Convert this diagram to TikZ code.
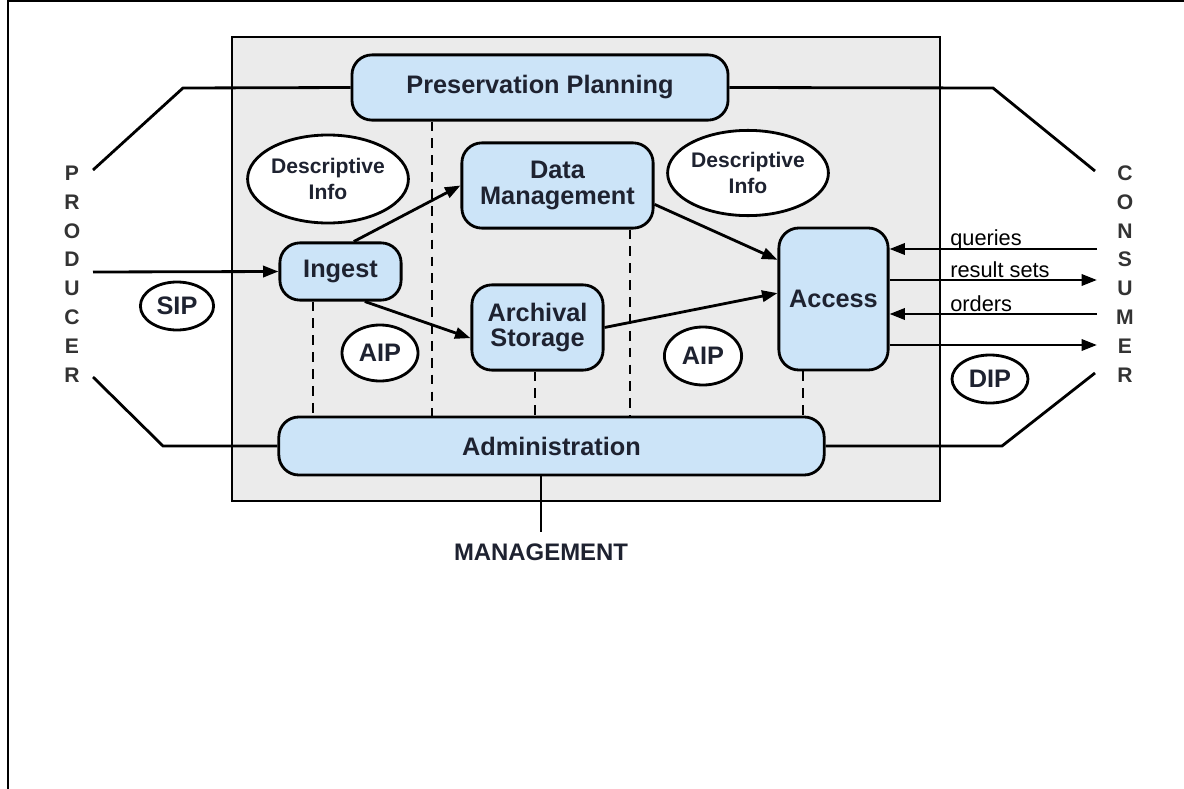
\documentclass[tikz,border=0pt]{standalone}
\usepackage{fontspec}
\setmainfont{Liberation Sans}
\usetikzlibrary{arrows.meta,shapes.geometric}
\definecolor{boxblue}{RGB}{204,228,248}
\definecolor{panelgray}{RGB}{235,235,235}
\definecolor{ink}{RGB}{30,34,48}

\begin{document}
\begin{tikzpicture}
  [x=0.025cm,y=-0.025cm,every node/.style={text=ink,font=\fontsize{18}{18.5}\selectfont\bfseries}]
  \tikzstyle{func} = [draw=black,line width=2pt,fill=boxblue,rounded corners=0.5cm,align=center,inner sep=0pt]
  \tikzstyle{obj} = [draw=black,line width=2pt,fill=white,ellipse,align=center,inner sep=0pt]
  \tikzstyle{flow} = [line width=2pt,-{Triangle[length=11pt,width=8pt]}]
  \tikzstyle{link} = [line width=2pt]
  \tikzstyle{dashline} = [line width=2pt,dash pattern=on 7pt off 5pt]
  \tikzstyle{lbl} = [font=\fontsize{15.5}{16}\selectfont,text=black,inner sep=0pt]
  \tikzstyle{letter} = [font=\fontsize{15}{15}\selectfont\bfseries,text=black!80]

  \useasboundingbox (0,0) rectangle (1184,789);
  \draw[line width=1.5pt] (8,789) -- (8,1) -- (1184,1);
  % the archive
  \draw[line width=2pt,fill=panelgray] (232,37) rectangle (940,501);

  \node[func,minimum width=9.4cm,minimum height=1.63cm] (pp) at (540,87.5) {Preservation Planning};
  \node[func,minimum width=3.03cm,minimum height=1.43cm] (ingest) at (340.5,271.5) {Ingest};
  \node[func,minimum width=4.78cm,minimum height=2.13cm] (dm) at (557.5,185.5) {Data\\Management};
  \node[func,minimum width=3.28cm,minimum height=2.13cm,font=\fontsize{18}{17.8}\selectfont\bfseries] (as) at (537.5,327.5) {Archival\\Storage};
  \node[func,minimum width=2.73cm,minimum height=3.55cm] (access) at (833.5,299) {Access};
  \node[func,minimum width=13.63cm,minimum height=1.45cm] (admin) at (551.5,446) {Administration};

  \node[obj,minimum width=3.65cm,minimum height=2.2cm,font=\fontsize{15}{18.5}\selectfont\bfseries] (descl) at (328,179) {Descriptive\\Info};
  \node[obj,minimum width=3.65cm,minimum height=2.13cm,font=\fontsize{15}{18.5}\selectfont\bfseries] (descr) at (748,173) {Descriptive\\Info};
  \node[obj,minimum width=1.83cm,minimum height=1.2cm] (sip) at (177,306) {SIP};
  \node[obj,minimum width=1.9cm,minimum height=1.4cm] (aipl) at (380,353) {AIP};
  \node[obj,minimum width=1.93cm,minimum height=1.45cm] (aipr) at (703,356) {AIP};
  \node[obj,minimum width=1.9cm,minimum height=1.2cm] (dip) at (990,379) {DIP};

  % producer and consumer
  \foreach \l [count=\i] in {P,R,O,D,U,C,E,R}
    \node[letter] (prod\i) at (72,{173+28.9*(\i-1)}) {\l};
  \foreach \l [count=\i] in {C,O,N,S,U,M,E,R}
    \node[letter] (cons\i) at (1125,{173+28.9*(\i-1)}) {\l};
  \coordinate (prodtop) at (93,170);
  \coordinate (prodmid) at (93,272);
  \coordinate (prodbot) at (93,377);
  \coordinate (constop) at (1095,171);
  \coordinate (consbot) at (1095,373);
  \coordinate (cq) at (1097,249);
  \coordinate (cr) at (1097,280);
  \coordinate (co) at (1097,314);
  \coordinate (cd) at (1097,345);

  \draw[link] (prodtop) -- ++(90,-82) -- (pp.west);
  \draw[link] (prodbot) -- ++(70,69) -- (admin.west);
  \draw[link] (constop) -- ++(-102,-83) -- (pp.east);
  \draw[link] (consbot) -- ++(-93,73) -- (admin.east);
  \draw[flow] (prodmid) -- (ingest.west);

  \foreach \source /\dest in {ingest.66/dm.west,ingest.-51/as.189,dm.-11/access.145,as.east/access.174}
    \draw[flow] (\source) -- (\dest);

  \draw[flow] (cq) -- (access.east |- cq);
  \draw[flow] (access.east |- cr) -- (cr);
  \draw[flow] (co) -- (access.east |- co);
  \draw[flow] (access.east |- cd) -- (cd);
  \node[lbl,anchor=base west] (lq) at (950,245) {queries};
  \node[lbl,anchor=base west] (lr) at (950,277) {result sets};
  \node[lbl,anchor=base west] (lo) at (950,311) {orders};

  \foreach \x /\source in {313/ingest,432/pp,535/as,630/dm,803/access}
    \draw[dashline] (\x,0 |- \source.south) -- (\x,0 |- admin.north);

  \node[anchor=north,inner sep=0pt,font=\fontsize{17}{17}\selectfont\bfseries] (mgmt) at (541,544) {MANAGEMENT};
  \draw[link] (mgmt.north |- admin.south) -- ([yshift=8.5pt]mgmt.north);
\end{tikzpicture}
\end{document}
